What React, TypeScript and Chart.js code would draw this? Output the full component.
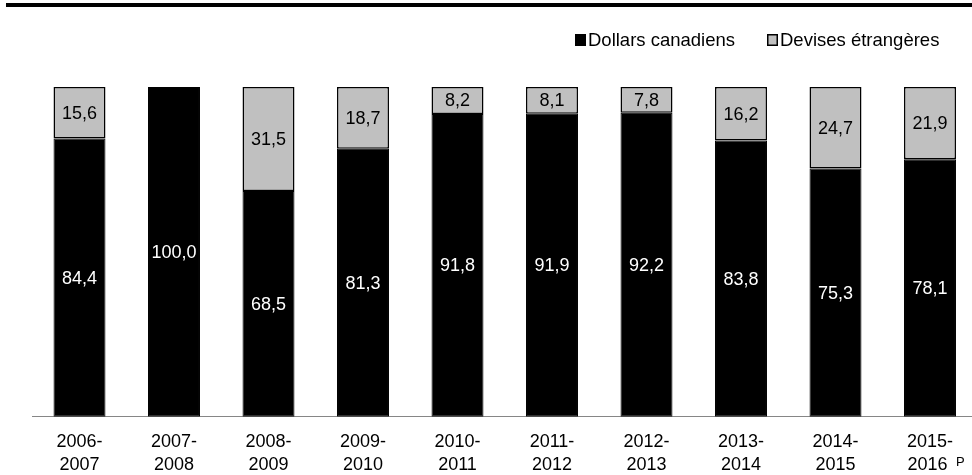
import React, { useEffect, useRef } from 'react';
import { Chart, registerables } from 'chart.js';

Chart.register(...registerables);

const categories: string[][] = [
  ['2006-', '2007'],
  ['2007-', '2008'],
  ['2008-', '2009'],
  ['2009-', '2010'],
  ['2010-', '2011'],
  ['2011-', '2012'],
  ['2012-', '2013'],
  ['2013-', '2014'],
  ['2014-', '2015'],
  ['2015-', '2016 '],
];
const cadValues = [84.4, 100.0, 68.5, 81.3, 91.8, 91.9, 92.2, 83.8, 75.3, 78.1];
const foreignValues = [15.6, 0, 31.5, 18.7, 8.2, 8.1, 7.8, 16.2, 24.7, 21.9];
const seriesNames = ['Dollars canadiens', 'Devises étrangères'];
const seriesColors = ['#000000', '#c0c0c0'];
const labelColors = ['#ffffff', '#000000'];
const provisionalMark = 'P';

const FONT = "'Liberation Sans', Arial, sans-serif";

const fmt = (v: number) => v.toFixed(1).replace('.', ',');

const decorPlugin = {
  id: 'decor',
  beforeDraw(chart: any) {
    const ctx = chart.ctx;
    ctx.save();
    ctx.fillStyle = '#000';
    ctx.fillRect(6, 3, 980, 4);
    ctx.restore();
  },
  afterDatasetsDraw(chart: any) {
    const ctx = chart.ctx;
    ctx.save();
    ctx.font = `18px ${FONT}`;
    ctx.textAlign = 'center';
    ctx.textBaseline = 'middle';
    chart.data.datasets.forEach((ds: any, di: number) => {
      const meta = chart.getDatasetMeta(di);
      meta.data.forEach((el: any, i: number) => {
        const v = ds.data[i];
        if (!v) return;
        const p = el.getProps(['x', 'y', 'base'], true);
        ctx.fillStyle = labelColors[di];
        ctx.fillText(fmt(v), p.x, (p.y + p.base) / 2 + 1);
      });
    });
    ctx.restore();
  },
  afterDraw(chart: any) {
    const ctx = chart.ctx;
    ctx.save();
    // legend
    ctx.font = `18.5px ${FONT}`;
    ctx.textAlign = 'left';
    ctx.textBaseline = 'alphabetic';
    const starts = [575, 767];
    chart.data.datasets.forEach((ds: any, di: number) => {
      const x = starts[di];
      ctx.fillStyle = ds.backgroundColor;
      ctx.fillRect(x, 34, 11, 12);
      ctx.strokeStyle = '#000';
      ctx.lineWidth = 1.5;
      ctx.strokeRect(x + 0.75, 34.75, 9.5, 10.5);
      ctx.fillStyle = '#000';
      ctx.fillText(ds.label, x + 13, 46);
    });
    // provisional superscript
    const xs = chart.scales.x;
    const last = categories.length - 1;
    ctx.font = `13px ${FONT}`;
    ctx.fillText(provisionalMark, xs.getPixelForValue(last) + 26, 466);
    ctx.restore();
  },
};

export default function App() {
  const ref = useRef<HTMLCanvasElement>(null);
  useEffect(() => {
    if (!ref.current) return;
    const chart = new Chart(ref.current, {
      type: 'bar',
      data: {
        labels: categories,
        datasets: [
          {
            label: seriesNames[0],
            data: cadValues,
            backgroundColor: seriesColors[0],
            borderColor: '#000',
            borderWidth: 1,
            borderSkipped: false,
          },
          {
            label: seriesNames[1],
            data: foreignValues,
            backgroundColor: seriesColors[1],
            borderColor: '#000',
            borderWidth: 1.5,
            borderSkipped: false,
          },
        ],
      },
      options: {
        responsive: false,
        animation: false,
        layout: { padding: { top: 87, left: 32.25, right: 2.75, bottom: 4 } },
        datasets: { bar: { categoryPercentage: 1, barPercentage: 0.55 } },
        plugins: {
          legend: { display: false },
          tooltip: { enabled: false },
        },
        scales: {
          x: {
            stacked: true,
            grid: { display: false, drawTicks: false },
            border: { display: true, color: '#868686', width: 1 },
            ticks: {
              color: '#000',
              padding: 14.1,
              maxRotation: 0,
              autoSkip: false,
              font: { family: FONT, size: 18, lineHeight: 1.25 },
            },
          },
          y: {
            stacked: true,
            display: false,
            min: 0,
            max: 100,
          },
        },
      },
      plugins: [decorPlugin],
    });
    return () => chart.destroy();
  }, []);
  return (
    <div style={{ position: 'fixed', left: 0, top: 0, width: 972, height: 475, overflow: 'hidden', background: '#fff' }}>
      <canvas ref={ref} width={980} height={494} style={{ display: 'block' }} />
    </div>
  );
}
